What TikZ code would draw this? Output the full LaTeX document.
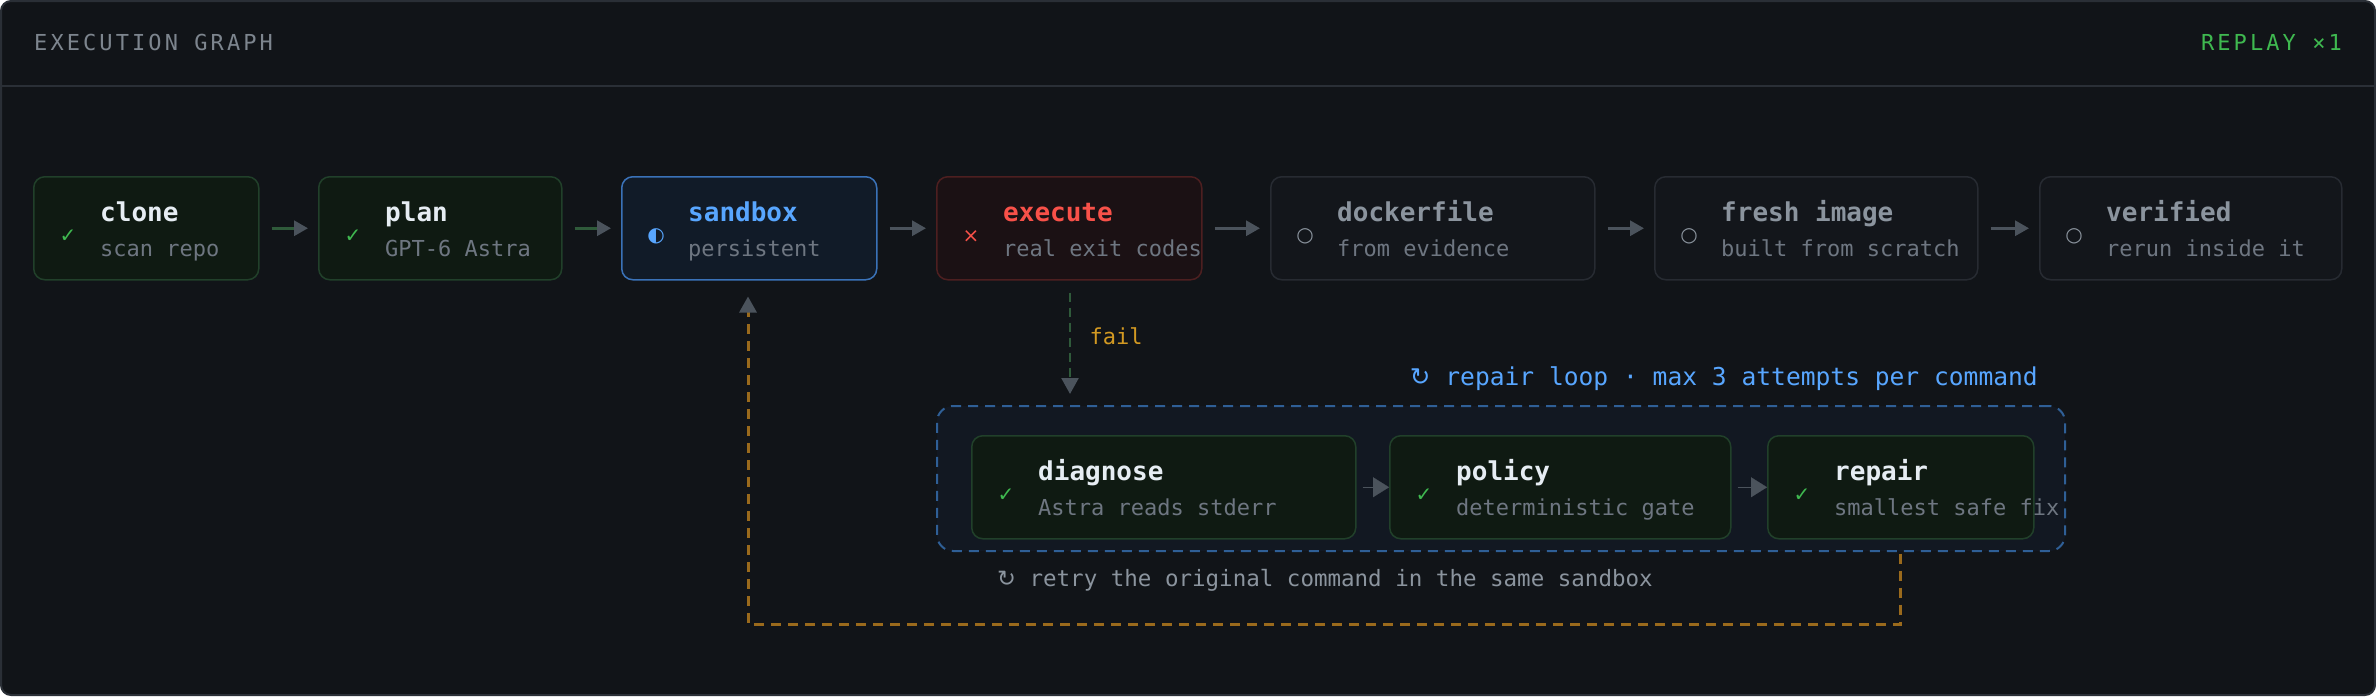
\documentclass[tikz,border=0pt]{standalone}
\usepackage{fontspec}
\setmainfont{DejaVu Sans Mono}
\newfontfamily\sym{DejaVu Sans}
\usetikzlibrary{arrows.meta,positioning}
\definecolor{bg}{HTML}{111418}
\definecolor{hdr}{HTML}{2a2f36}
\definecolor{gfill}{HTML}{0f1a12}\definecolor{gline}{HTML}{21402a}
\definecolor{bfill}{HTML}{111b28}\definecolor{bline}{HTML}{3a72b8}
\definecolor{rfill}{HTML}{1b1114}\definecolor{rline}{HTML}{4d1f20}
\definecolor{nfill}{HTML}{13161b}\definecolor{nline}{HTML}{272b32}
\definecolor{ttl}{HTML}{e6edf3}\definecolor{sub}{HTML}{6e7681}\definecolor{pend}{HTML}{8b949e}
\definecolor{hdt}{HTML}{7d858e}
\definecolor{okg}{HTML}{3fb950}\definecolor{blu}{HTML}{58a6ff}\definecolor{red}{HTML}{f85149}
\definecolor{org}{HTML}{d29922}\definecolor{orl}{HTML}{9a6a1c}\definecolor{arr}{HTML}{4b535c}\definecolor{shaft}{HTML}{2f5a3a}
\definecolor{lfill}{HTML}{121822}\definecolor{lline}{HTML}{2f5f96}
\tikzset{
 box/.style={draw,line width=1.5pt,rounded corners=11pt,inner sep=0pt,anchor=north west},
 done/.style={box,fill=gfill,draw=gline},
 act/.style={box,fill=bfill,draw=bline},
 bad/.style={box,fill=rfill,draw=rline},
 pend/.style={box,fill=nfill,draw=nline},
 ttlt/.style={anchor=base west,inner sep=0pt,font=\fontsize{26}{26}\selectfont\bfseries},
 subt/.style={anchor=base west,inner sep=0pt,font=\fontsize{22}{22}\selectfont,text=sub},
 icon/.style={anchor=center,inner sep=0pt,font=\sym\fontsize{20}{20}\selectfont},
 flow/.style={line width=3pt,draw=shaft,-{Triangle[length=14pt,width=15pt,color=arr]}},
 hdrt/.style={font=\fontsize{22}{22}\selectfont\addfontfeature{LetterSpace=14},inner sep=0pt},
}
\def\icdone{okg}\def\ttdone{ttl}
\def\icact{blu}\def\ttact{blu}
\def\icbad{red}\def\ttbad{red}
\def\icpend{pend}\def\ttpend{pend}
% \stg{name}{x1}{y1}{x2}{y2}{kind}{icon}{title}{sub}
\newcommand\stg[9]{%
 \node[#6,minimum width=#4pt-#2pt,minimum height=#5pt-#3pt] (#1) at (#2,#3) {};
 \node[icon,text=\csname ic#6\endcsname] (#1i) at ([xshift=35pt,yshift=-8pt]#1.west) {#7};
 \node[ttlt,text=\csname tt#6\endcsname] (#1t) at ([xshift=67pt,yshift=7pt]#1.west) {#8};
 \node[subt] (#1s) at ([xshift=67pt,yshift=-28pt]#1.west) {#9};}
\begin{document}
\begin{tikzpicture}[x=1pt,y=-1pt]
\useasboundingbox (0,0) rectangle (2376,696);
\draw[fill=bg,draw=hdr,line width=2pt,rounded corners=10pt] (1,1) rectangle (2375,695);
\draw[hdr,line width=1.5pt] (1,86) -- (2375,86);
\node[anchor=west,text=hdt,hdrt] (hd) at (34,42) {EXECUTION GRAPH};
\node[anchor=east,text=okg,hdrt] (rp) at (2342,42) {REPLAY ×1};
\stg{clone}{33}{176}{258}{279}{done}{✓}{clone}{scan repo}
\stg{plan}{318}{176}{561}{279}{done}{✓}{plan}{GPT-6 Astra}
\stg{sandbox}{621}{176}{876}{279}{act}{◐}{sandbox}{persistent}
\stg{execute}{936}{176}{1201}{279}{bad}{×}{execute}{real exit codes}
\stg{docker}{1270}{176}{1594}{279}{pend}{○}{dockerfile}{from evidence}
\stg{fresh}{1654}{176}{1977}{279}{pend}{○}{fresh image}{built from scratch}
\stg{verified}{2039}{176}{2341}{279}{pend}{○}{verified}{rerun inside it}
\draw[flow] ([xshift=12pt]clone.east) -- ([xshift=-10pt]plan.west);
\draw[flow] ([xshift=12pt]plan.east) -- ([xshift=-10pt]sandbox.west);
\draw[flow,draw=arr] ([xshift=12pt]sandbox.east) -- ([xshift=-10pt]execute.west);
\draw[flow,draw=arr] ([xshift=12pt]execute.east) -- ([xshift=-10pt]docker.west);
\draw[flow,draw=arr] ([xshift=12pt]docker.east) -- ([xshift=-10pt]fresh.west);
\draw[flow,draw=arr] ([xshift=12pt]fresh.east) -- ([xshift=-10pt]verified.west);
% repair loop
\node[draw=lline,fill=lfill,dash pattern=on 10pt off 7pt,line width=2pt,rounded corners=16pt,minimum width=1128pt,minimum height=145pt,anchor=north west,inner sep=0pt] (loop) at (936,405) {};
\node[anchor=base east,text=blu,font=\fontsize{24.6}{24}\selectfont,inner sep=0pt] (lt) at (2038,385) {{\sym ↻} repair loop · max 3 attempts per command};
\stg{diag}{971}{435}{1355}{538}{done}{✓}{diagnose}{Astra reads stderr}
\stg{policy}{1389}{435}{1730}{538}{done}{✓}{policy}{deterministic gate}
\stg{repair}{1767}{435}{2033}{538}{done}{✓}{repair}{smallest safe fix}
\draw[arr,line width=0.1pt,shorten <=6pt,-{Triangle[length=16pt,width=20pt]}] (diag.east) -- (policy.west);
\draw[arr,line width=0.1pt,shorten <=6pt,-{Triangle[length=16pt,width=20pt]}] (policy.east) -- (repair.west);
% fail
\coordinate (ft) at (1070,394);
\draw[draw=shaft,line width=2.5pt,dash pattern=on 9pt off 6pt,-{Triangle[length=16pt,width=17pt,color=arr]}] ([yshift=-12pt]execute.south -| ft) -- (ft);
\node[anchor=west,text=org,font=\fontsize{22}{22}\selectfont] (fl) at (1086,336) {fail};
\node[anchor=west,text=pend,font=\fontsize{22.5}{22}\selectfont,inner sep=0pt] (rt) at (997,580) {{\sym ↻} retry the original command in the same sandbox};
% retry path
\coordinate (c1) at (1900,624);\coordinate (c2) at (748,624);
\draw[draw=orl,line width=3pt,dash pattern=on 10pt off 7pt,-{Triangle[length=16pt,width=17pt,color=arr]}] ([yshift=-14pt]repair.south -| c1) -- (c1) -- (c2) -- ([yshift=-16pt]sandbox.south -| c2);
\end{tikzpicture}
\end{document}
